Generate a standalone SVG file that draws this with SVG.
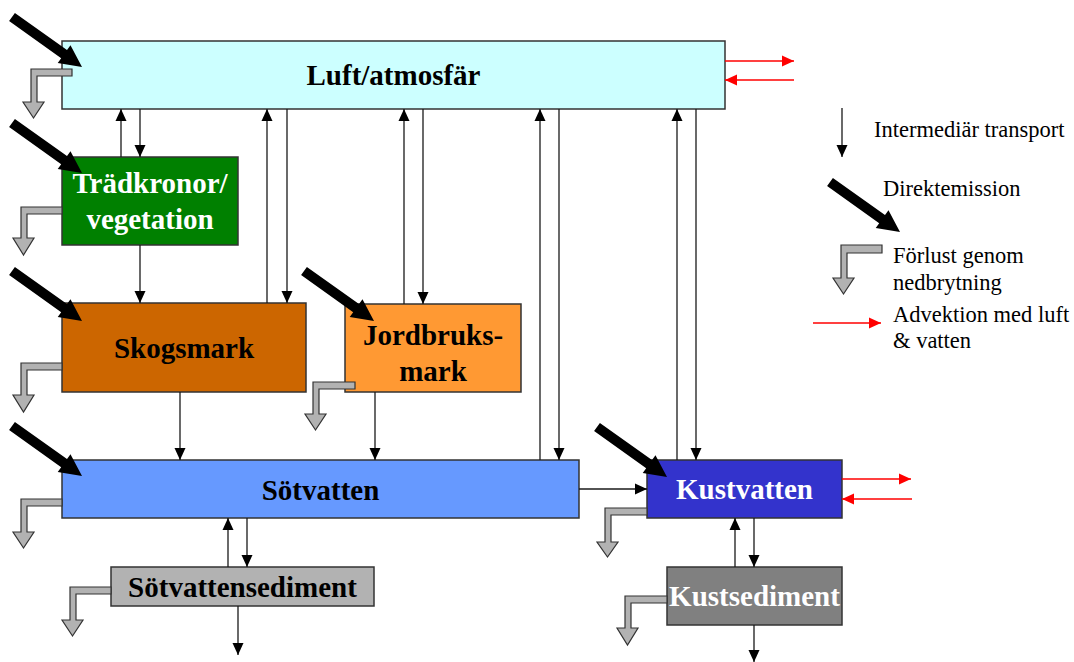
<svg xmlns="http://www.w3.org/2000/svg" width="1074" height="662" viewBox="0 0 1074 662">
  <style>
    .box { stroke: #333333; stroke-width: 1.5; }
    .lbl { font-family: "Liberation Serif", "Times New Roman", serif; font-weight: bold; font-size: 29px; text-anchor: middle; }
    .dark { fill: #000000; }
    .light { fill: #ffffff; }
    .leg { font-family: "Liberation Serif", "Times New Roman", serif; font-size: 22.5px; fill: #000000; }
    .flow { stroke: #1a1a1a; stroke-width: 1.3; fill: none; marker-end: url(#head); }
    .adv { stroke: #ff0000; stroke-width: 1.5; fill: none; marker-end: url(#redhead); }
    .loss { fill: #b2b2b2; stroke: #333333; stroke-width: 1.2; stroke-linejoin: miter; }
    .emit { fill: #000000; }
  </style>
  <defs>
    <marker id="head" markerUnits="userSpaceOnUse" markerWidth="12" markerHeight="12" refX="12" refY="6" orient="auto">
      <path d="M0,0.5 L12,6 L0,11.5 Z" fill="#000000"/>
    </marker>
    <marker id="redhead" markerUnits="userSpaceOnUse" markerWidth="12" markerHeight="12" refX="12" refY="6" orient="auto">
      <path d="M0,0.5 L12,6 L0,11.5 Z" fill="#ff0000"/>
    </marker>
    <!-- thick direct-emission arrow, tail at origin, pointing along +x -->
    <path id="emitArrow" d="M0,-5 L64,-5 L64,-11 L86,0 L64,11 L64,5 L0,5 Z"/>
  </defs>

  <rect width="1074" height="662" fill="#ffffff"/>

  <!-- compartments -->
  <g id="luft">
    <rect class="box" x="62" y="41" width="663" height="68" fill="#ccffff"/>
    <text class="lbl dark" x="393.5" y="85">Luft/atmosfär</text>
  </g>
  <g id="tradkronor">
    <rect class="box" x="62" y="157" width="176" height="88" fill="#008000"/>
    <text class="lbl light" x="150" y="193">Trädkronor/</text>
    <text class="lbl light" x="150" y="229">vegetation</text>
  </g>
  <g id="skogsmark">
    <rect class="box" x="62" y="303" width="244" height="89" fill="#cc6600"/>
    <text class="lbl dark" x="184" y="358">Skogsmark</text>
  </g>
  <g id="jordbruksmark">
    <rect class="box" x="345" y="304" width="176" height="88" fill="#ff9933"/>
    <text class="lbl dark" x="433" y="345">Jordbruks-</text>
    <text class="lbl dark" x="433" y="381">mark</text>
  </g>
  <g id="sotvatten">
    <rect class="box" x="62" y="460" width="517" height="58" fill="#6699ff"/>
    <text class="lbl dark" x="320.5" y="500">Sötvatten</text>
  </g>
  <g id="sotvattensediment">
    <rect class="box" x="111" y="567" width="263" height="39" fill="#b2b2b2"/>
    <text class="lbl dark" x="242.5" y="597">Sötvattensediment</text>
  </g>
  <g id="kustvatten">
    <rect class="box" x="647" y="460" width="195" height="58" fill="#3333cc"/>
    <text class="lbl light" x="744.5" y="499">Kustvatten</text>
  </g>
  <g id="kustsediment">
    <rect class="box" x="667" y="567" width="175" height="58" fill="#808080"/>
    <text class="lbl light" x="754.5" y="606">Kustsediment</text>
  </g>

  <!-- transports between compartments -->
  <g id="connectors">
    <line class="flow" x1="121" y1="157" x2="121" y2="109"/>
    <line class="flow" x1="140" y1="109" x2="140" y2="157"/>
    <line class="flow" x1="140" y1="245" x2="140" y2="303"/>
    <line class="flow" x1="267" y1="303" x2="267" y2="109"/>
    <line class="flow" x1="287" y1="109" x2="287" y2="303"/>
    <line class="flow" x1="404" y1="304" x2="404" y2="109"/>
    <line class="flow" x1="423" y1="109" x2="423" y2="304"/>
    <line class="flow" x1="180" y1="392" x2="180" y2="460"/>
    <line class="flow" x1="375" y1="392" x2="375" y2="460"/>
    <line class="flow" x1="540" y1="460" x2="540" y2="109"/>
    <line class="flow" x1="559" y1="109" x2="559" y2="460"/>
    <line class="flow" x1="677" y1="460" x2="677" y2="109"/>
    <line class="flow" x1="696" y1="109" x2="696" y2="460"/>
    <line class="flow" x1="579" y1="489" x2="647" y2="489"/>
    <line class="flow" x1="228" y1="567" x2="228" y2="518"/>
    <line class="flow" x1="247" y1="518" x2="247" y2="567"/>
    <line class="flow" x1="238" y1="606" x2="238" y2="655"/>
    <line class="flow" x1="735" y1="567" x2="735" y2="518"/>
    <line class="flow" x1="754" y1="518" x2="754" y2="567"/>
    <line class="flow" x1="754" y1="625" x2="754" y2="662"/>
    <!-- advection -->
    <line class="adv" x1="725" y1="61" x2="794" y2="61"/>
    <line class="adv" x1="794" y1="80" x2="725" y2="80"/>
    <line class="adv" x1="842" y1="479" x2="911" y2="479"/>
    <line class="adv" x1="912" y1="499" x2="842" y2="499"/>
  </g>

  <!-- degradation losses -->
  <g id="losses">
    <path class="loss" d="M72,69 H31 V102 H23 L33.5,118 L44,102 H37 V76 H72 Z"/>
    <path class="loss" d="M62,207 H21 V238 H13 L23.5,255 L34,238 H27 V214 H62 Z"/>
    <path class="loss" d="M62,363 H21 V395 H13 L23.5,412 L34,395 H27 V370 H62 Z"/>
    <path class="loss" d="M355,382 H313 V414 H305 L315.5,430 L326,414 H319 V389 H355 Z"/>
    <path class="loss" d="M62,499 H21 V532 H13 L23.5,548 L34,532 H27 V506 H62 Z"/>
    <path class="loss" d="M111,587 H70 V620 H62 L72.5,636 L83,620 H76 V594 H111 Z"/>
    <path class="loss" d="M647,508 H605 V542 H597 L607.5,557 L618,542 H611 V515 H647 Z"/>
    <path class="loss" d="M667,596 H625 V628 H617 L627.5,645 L638,628 H631 V603 H667 Z"/>
  </g>

  <!-- direct emissions -->
  <g id="emissions">
    <use href="#emitArrow" class="emit" transform="translate(12,17) rotate(35.5)"/>
    <use href="#emitArrow" class="emit" transform="translate(12,123) rotate(35.5)"/>
    <use href="#emitArrow" class="emit" transform="translate(12,271) rotate(35.5)"/>
    <use href="#emitArrow" class="emit" transform="translate(304,271) rotate(35.5)"/>
    <use href="#emitArrow" class="emit" transform="translate(12,426) rotate(35.5)"/>
    <use href="#emitArrow" class="emit" transform="translate(597,427) rotate(35.5)"/>
  </g>

  <!-- legend -->
  <g id="legend">
    <line class="flow" x1="842" y1="108" x2="842" y2="157"/>
    <text class="leg" x="874" y="137">Intermediär transport</text>
    <use href="#emitArrow" class="emit" transform="translate(830,182) rotate(35.5)"/>
    <text class="leg" x="883" y="196">Direktemission</text>
    <path class="loss" d="M882,245 H841 V278 H833 L843.5,294 L854,278 H847 V253 H882 Z"/>
    <text class="leg" x="893" y="263">Förlust genom</text>
    <text class="leg" x="893" y="290">nedbrytning</text>
    <line class="adv" x1="813" y1="323" x2="881" y2="323"/>
    <text class="leg" x="893" y="322">Advektion med luft</text>
    <text class="leg" x="893" y="348">&amp; vatten</text>
  </g>
</svg>
